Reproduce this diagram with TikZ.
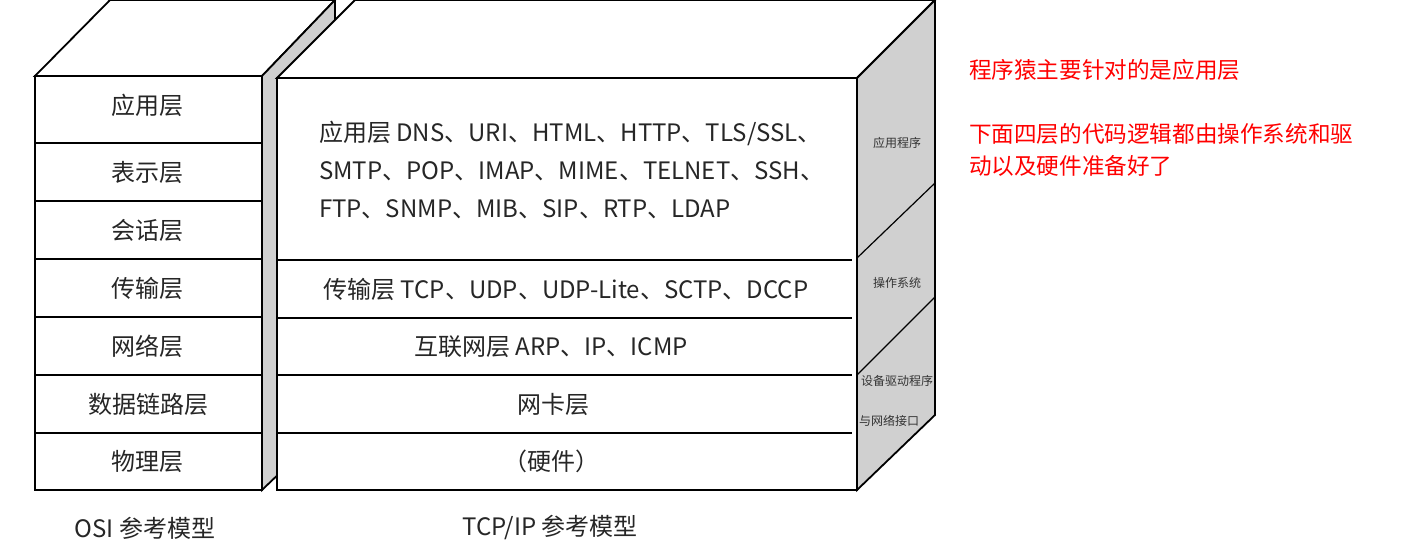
\documentclass[tikz,border=0pt]{standalone}
\usepackage{fontspec}
\setmainfont{Noto Sans CJK SC}
\usetikzlibrary{positioning}
\definecolor{sidegray}{HTML}{D0D0D0}
\definecolor{notered}{HTML}{FF0000}
\begin{document}
\begin{tikzpicture}[x=0.5pt,y=-0.5pt,
  face/.style={draw=black, line width=0.9pt, fill=white},
  side/.style={draw=black, line width=0.9pt, fill=sidegray},
  layer/.style={font=\fontsize{12}{19}\selectfont, text=black!85, align=left},
  sidelabel/.style={font=\fontsize{6}{7}\selectfont, text=black!80},
  note/.style={font=\fontsize{11.3}{16}\selectfont, text=notered, anchor=west, align=left}
]
  \useasboundingbox (0,0) rectangle (1415,556);

  % OSI block
  \draw[face] (35,76) -- (110,0) -- (335,0) -- (262,76) -- cycle;
  \draw[side] (262,76) -- (335,0) -- (335,420) -- (262,490) -- cycle;
  \draw[face] (35,76) rectangle (262,490);
  \foreach \y in {143,201,259,317,375,433}
    \draw[line width=0.6pt] (35,\y) -- (262,\y);
  \node[layer] (osi7) at (148,105) {应用层};
  \node[layer] (osi6) at (148,172) {表示层};
  \node[layer] (osi5) at (148,230) {会话层};
  \node[layer] (osi4) at (148,288) {传输层};
  \node[layer] (osi3) at (148,346) {网络层};
  \node[layer] (osi2) at (148,404) {数据链路层};
  \node[layer] (osi1) at (148,461) {物理层};

  % TCP/IP block
  \draw[face] (277,78) -- (355,0) -- (935,0) -- (857,78) -- cycle;
  \draw[side] (857,78) -- (935,0) -- (935,415) -- (857,490) -- cycle;
  \draw[line width=0.6pt] (857,258) -- (935,183);
  \draw[line width=0.6pt] (857,375) -- (935,297);
  \draw[face] (277,78) rectangle (857,490);
  \foreach \y in {260,318,375,433}
    \draw[line width=0.6pt] (277,\y) -- (852,\y);
  \node[layer, anchor=west] (app) at (312,170)
    {应用层 DNS、URI、HTML、HTTP、TLS/SSL、\\SMTP、POP、IMAP、MIME、TELNET、SSH、\\FTP、SNMP、MIB、SIP、RTP、LDAP};
  \node[layer] (trans) at (566,289) {传输层 TCP、UDP、UDP-Lite、SCTP、DCCP};
  \node[layer] (inet) at (551,347) {互联网层 ARP、IP、ICMP};
  \node[layer] (nic) at (553,404) {网卡层};
  \node[layer] (hw) at (551,461) {（硬件）};

  % side labels
  \node[sidelabel] (sapp) at (897,143) {应用程序};
  \node[sidelabel] (sos) at (897,283) {操作系统};
  \node[sidelabel] (sdrv) at (897,381) {设备驱动程序};
  \node[sidelabel] (snet) at (889,421) {与网络接口};

  % captions
  \node[layer] (osicap) at (145,528) {OSI 参考模型};
  \node[layer] (tcpcap) at (550,528) {TCP/IP 参考模型};

  % notes
  \node[note] (note1) at (962,70) {程序猿主要针对的是应用层};
  \node[note] (note2) at (962,150) {下面四层的代码逻辑都由操作系统和驱\\动以及硬件准备好了};
\end{tikzpicture}
\end{document}
